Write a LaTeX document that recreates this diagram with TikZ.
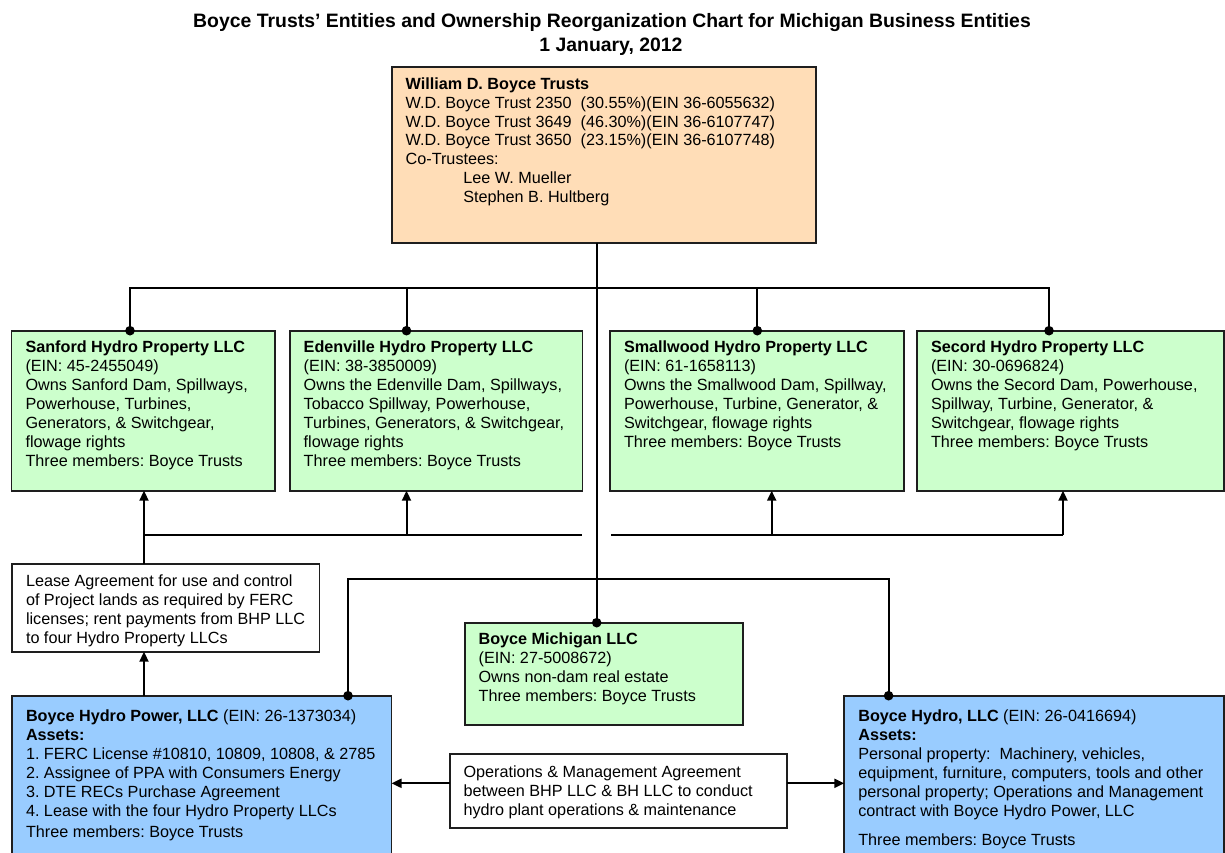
\documentclass[tikz,border=0pt]{standalone}
\usepackage{fontspec}
\setmainfont{Liberation Sans}
\usetikzlibrary{arrows.meta,calc}
\definecolor{peach}{RGB}{255,221,183}
\definecolor{mint}{RGB}{204,255,204}
\definecolor{sky}{RGB}{153,204,255}
\definecolor{edge}{RGB}{30,30,30}
\frenchspacing
\newcommand{\bxt}[4]{\parbox[c][#2][t]{#1}{\frenchspacing\raggedright\leftskip=14pt\relax\rule{0pt}{#3}#4}}
\tikzset{
  box/.style={draw=edge, line width=1.8pt, inner sep=0pt, outer sep=0pt, anchor=north west},
  conn/.style={draw=black, line width=2pt},
  arr/.style={conn, -{Triangle[length=10pt,width=9pt]}},
  dotc/.style={fill=black},
  every node/.style={font=\fontsize{16.2}{18.9}\selectfont},
  ttl/.style={font=\fontsize{19.4}{24}\selectfont\bfseries, anchor=base, inner sep=0pt}
}
\begin{document}
\begin{tikzpicture}[x=1pt,y=-1pt]
\fill[white] (0,0) rectangle (1225,853);
\useasboundingbox (0,0) rectangle (1225,853);

% title
\node[ttl] (title) at (612,27.5) {Boyce Trusts’ Entities and Ownership Reorganization Chart for Michigan Business Entities};
\node[ttl] (date) at (611,52) {1 January, 2012};

% boxes
\node[box, fill=peach] (trust) at (391.7,67.3) {\bxt{424pt}{175.4pt}{22pt}{%
\textbf{William D. Boyce Trusts}\\
W.D. Boyce Trust 2350~~(30.55\%)(EIN 36-6055632)\\
W.D. Boyce Trust 3649~~(46.30\%)(EIN 36-6107747)\\
W.D. Boyce Trust 3650~~(23.15\%)(EIN 36-6107748)\\
Co-Trustees:\\
\hspace*{57.7pt}Lee W. Mueller\\
\hspace*{57.7pt}Stephen B. Hultberg}};

\node[box, fill=mint] (sanford) at (11.5,330.7) {\bxt{263.3pt}{160pt}{22pt}{%
\textbf{Sanford Hydro Property LLC}\\
(EIN: 45-2455049)\\
Owns Sanford Dam, Spillways,\\
Powerhouse, Turbines,\\
Generators, \& Switchgear,\\
flowage rights\\
Three members: Boyce Trusts}};

\node[box, fill=mint] (edenville) at (289.7,330.7) {\bxt{292.8pt}{160pt}{22pt}{%
\textbf{Edenville Hydro Property LLC}\\
(EIN: 38-3850009)\\
Owns the Edenville Dam, Spillways,\\
Tobacco Spillway, Powerhouse,\\
Turbines, Generators, \& Switchgear,\\
flowage rights\\
Three members: Boyce Trusts}};

\node[box, fill=mint] (smallwood) at (610,330.7) {\bxt{293.7pt}{160pt}{22pt}{%
\textbf{Smallwood Hydro Property LLC}\\
(EIN: 61-1658113)\\
Owns the Smallwood Dam, Spillway,\\
Powerhouse, Turbine, Generator, \&\\
Switchgear, flowage rights\\
Three members: Boyce Trusts}};

\node[box, fill=mint] (secord) at (917,330.7) {\bxt{306.7pt}{160pt}{22pt}{%
\textbf{Secord Hydro Property LLC}\\
(EIN: 30-0696824)\\
Owns the Secord Dam, Powerhouse,\\
Spillway, Turbine, Generator, \&\\
Switchgear, flowage rights\\
Three members: Boyce Trusts}};

\node[box, fill=white] (lease) at (12,564) {\bxt{307.5pt}{87.7pt}{22.7pt}{%
Lease Agreement for use and control\\
of Project lands as required by FERC\\
licenses; rent payments from BHP LLC\\
to four Hydro Property LLCs}};

\node[box, fill=mint] (michigan) at (464.6,622.7) {\bxt{278.1pt}{102.3pt}{21.8pt}{%
\textbf{Boyce Michigan LLC}\\
(EIN: 27-5008672)\\
Owns non-dam real estate\\
Three members: Boyce Trusts}};

\node[box, fill=sky] (bhp) at (12,695.7) {\bxt{379.5pt}{200pt}{26pt}{%
\textbf{Boyce Hydro Power, LLC} (EIN: 26-1373034)\\
\textbf{Assets:}\\
1. FERC License \#10810, 10809, 10808, \& 2785\\
2. Assignee of PPA with Consumers Energy\\
3. DTE RECs Purchase Agreement\\
4. Lease with the four Hydro Property LLCs\\[2pt]
Three members: Boyce Trusts}};

\node[box, fill=sky] (bh) at (844.3,695.7) {\bxt{379.4pt}{200pt}{26pt}{%
\textbf{Boyce Hydro, LLC} (EIN: 26-0416694)\\
\textbf{Assets:}\\
Personal property:~ Machinery, vehicles,\\
equipment, furniture, computers, tools and other\\
personal property; Operations and Management\\
contract with Boyce Hydro Power, LLC\\[10pt]
Three members: Boyce Trusts}};

\node[box, fill=white] (om) at (449.6,754) {\bxt{337.1pt}{74.3pt}{23.7pt}{%
Operations \& Management Agreement\\
between BHP LLC \& BH LLC to conduct\\
hydro plant operations \& maintenance}};

% junction coordinates
\coordinate (jm) at (596.7,288);
\coordinate (d1) at (130,288);
\coordinate (d2) at (406.5,288);
\coordinate (d3) at (757.3,288);
\coordinate (d4) at (1049,288);
\coordinate (a1) at (144,535);
\coordinate (a2) at (406.5,535);
\coordinate (aL) at (581.7,535);
\coordinate (aR) at (611,535);
\coordinate (a3) at (771.7,535);
\coordinate (a4) at (1063,535);
\coordinate (b1) at (348,579.3);
\coordinate (b2) at (888.6,579.3);
\coordinate (ya) at (0,783.3);

% ownership bus
\draw[conn] (trust.south -| jm) -- (michigan.north -| jm);
\draw[conn] (sanford.north -| d1) -- (d1) -- (d4) -- (secord.north -| d4);
\draw[conn] (d2) -- (edenville.north -| d2);
\draw[conn] (d3) -- (smallwood.north -| d3);
\foreach \n/\c in {sanford/d1, edenville/d2, smallwood/d3, secord/d4, michigan/jm}
  \fill[dotc] (\n.north -| \c) circle (4.8pt);

% lease bus
\draw[conn] (lease.north -| a1) -- (a1) -- (aL);
\draw[conn] (aR) -- (a4);
\draw[arr] (a1) -- (sanford.south -| a1);
\draw[arr] (a2) -- (edenville.south -| a2);
\draw[arr] (a3) -- (smallwood.south -| a3);
\draw[arr] (a4) -- (secord.south -| a4);
\draw[arr] (bhp.north -| a1) -- (lease.south -| a1);

% BHP - BH link
\draw[conn] (bhp.north -| b1) -- (b1) -- (b2) -- (bh.north -| b2);
\fill[dotc] (bhp.north -| b1) circle (4.8pt);
\fill[dotc] (bh.north -| b2) circle (4.8pt);

% O&M arrows
\draw[arr] (om.west |- ya) -- (bhp.east |- ya);
\draw[arr] (om.east |- ya) -- (bh.west |- ya);
\end{tikzpicture}
\end{document}
